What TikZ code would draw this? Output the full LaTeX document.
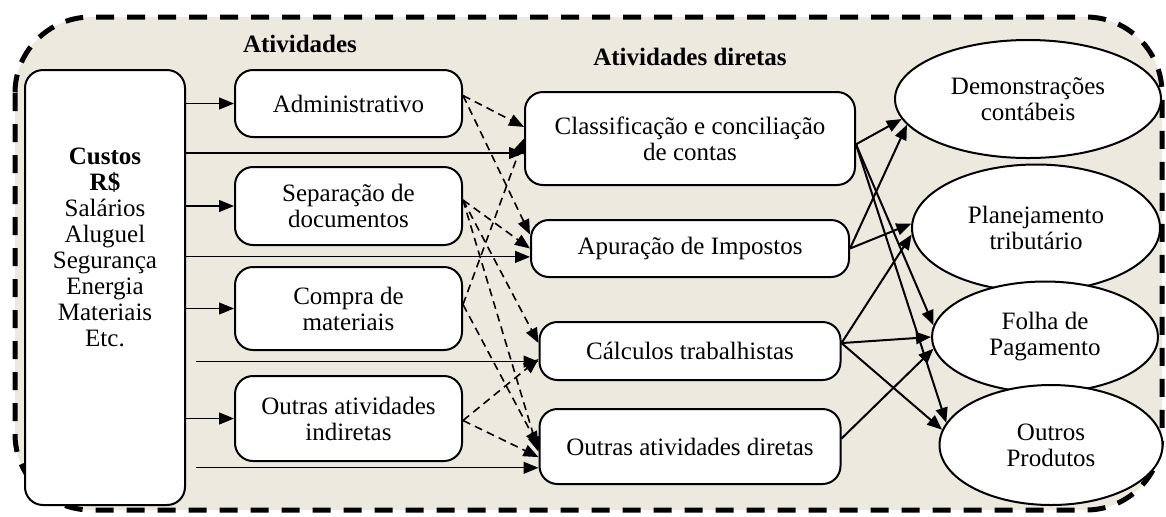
\documentclass[tikz,border=0pt]{standalone}
\usepackage{fontspec}
\setmainfont{Liberation Serif}
\usetikzlibrary{arrows.meta,positioning,shapes}
\definecolor{fundo}{RGB}{236,233,223}

\begin{document}
\begin{tikzpicture}[x=0.5pt,y=-0.5pt,font=\fontsize{12.5}{13}\selectfont,
    caixa/.style={draw, line width=1pt, rounded corners=9pt, fill=white, align=center, text centered},
    produto/.style={draw, ellipse, line width=1pt, fill=white, align=center, inner sep=0pt},
    seta/.style={-{Triangle[length=7.5pt,width=6pt]}, line width=0.6pt}]
        \tikzstyle{indireta} = [caixa, minimum width=113.5pt]
        \tikzstyle{direta} = [caixa]
        \tikzstyle{saida} = [seta, line width=1pt]
        \tikzstyle{rateio} = [seta, line width=0.8pt, dash pattern=on 4pt off 2.6pt]
        \tikzstyle{titulo} = [font=\fontsize{12.5}{13}\selectfont\bfseries]
        \useasboundingbox (0,0) rectangle (1166,516);
        \path[fill=fundo, draw, line width=2.5pt, dash pattern=on 9pt off 6.5pt, rounded corners=38pt] (15,17) rectangle (1162,510);

        \node[caixa, minimum width=80pt, minimum height=217.5pt] (custos) at (105,287.5) {};
        \node[align=center] (custostxt) at (105,247) {\textbf{Custos}\\\textbf{R\$}\\Salários\\Aluguel\\Segurança\\Energia\\Materiais\\Etc.};

        \node[titulo] (titind) at (300,44) {Atividades};
        \node[indireta, minimum height=33.5pt] (adm) at (348.5,103.5) {Administrativo};
        \node[indireta, minimum height=39pt, below=14pt of adm] (sep) {Separação de\\documentos};
        \node[indireta, minimum height=41.5pt, below=10pt of sep] (compra) {Compra de\\materiais};
        \node[indireta, minimum height=42.5pt, below=12pt of compra] (outi) {Outras atividades\\indiretas};

        \node[titulo] (titdir) at (690,57) {Atividades diretas};
        \node[direta, minimum width=165pt, minimum height=46.5pt] (classif) at (690,138.5) {Classificação e conciliação\\de contas};
        \node[direta, minimum width=159pt, minimum height=28.5pt, below=16.5pt of classif] (apur) {Apuração de Impostos};
        \node[direta, minimum width=150.5pt, minimum height=29pt, below=21.5pt of apur] (calc) {Cálculos trabalhistas};
        \node[direta, minimum width=150.5pt, minimum height=37.5pt, below=13.5pt of calc] (outd) {Outras atividades diretas};

        \node[produto, minimum width=133pt, minimum height=59pt] (demo) at (1028,99) {Demonstrações\\contábeis};
        \node[produto, minimum width=124pt, minimum height=63.5pt] (plan) at (1036,228) {Planejamento\\tributário};
        \node[produto, minimum width=113pt, minimum height=55.5pt] (folha) at (1045,337) {Folha de\\Pagamento};
        \node[produto, minimum width=111.5pt, minimum height=60pt] (outros) at (1051,445) {Outros\\Produtos};

        \draw [seta] (custos.east |- adm.west) -- (adm.west);
        \draw [seta] (custos.east |- sep.west) -- (sep.west);
        \draw [seta] (custos.east |- compra.west) -- (compra.west);
        \draw [seta] (custos.east |- outi.west) -- (outi.west);
        \draw [seta] (custos.east |- classif.185) -- (classif.185);
        \draw [seta] (custos.east |- apur.183) -- (apur.183);
        \draw [seta, shorten <=5pt] (custos.east |- calc.184) -- (calc.184);
        \draw [seta, shorten <=5pt] (custos.east |- outd.188) -- (outd.188);

        \draw [rateio] (adm.4) -- (classif.176);
        \draw [rateio] (adm.4) -- (apur.175);
        \draw [rateio] (sep.3) -- (apur.west);
        \draw [rateio] (sep.3) -- (calc.177);
        \draw [rateio] (sep.3) -- (outd.182);
        \draw [rateio] (compra.2) -- (classif.west);
        \draw [rateio] (compra.2) -- (outd.west);
        \draw [rateio] (outi.359) -- (calc.183);
        \draw [rateio] (outi.359) -- (outd.184);

        \draw [saida] (classif.358) -- (demo.189);
        \draw [saida] (classif.358) -- (folha.174);
        \draw [saida] (classif.358) -- (outros.168);
        \draw [saida] (apur.east) -- (demo.192);
        \draw [saida] (apur.east) -- (plan.178);
        \draw [saida] (calc.3) -- (plan.183);
        \draw [saida] (calc.3) -- (folha.180);
        \draw [saida] (calc.3) -- (outros.172);
        \draw [saida] (outd.3) -- (folha.186);
\end{tikzpicture}
\end{document}
